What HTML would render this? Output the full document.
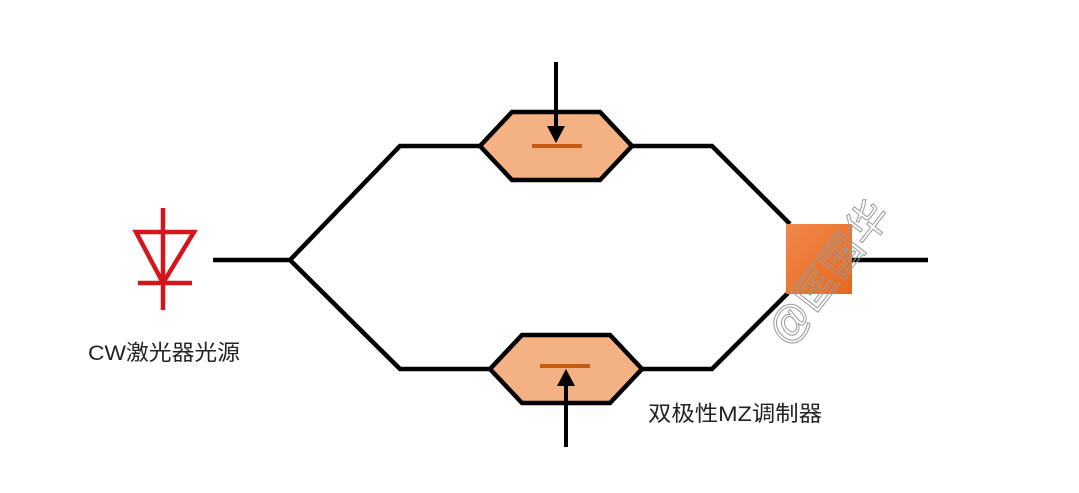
<!DOCTYPE html>
<html><head><meta charset="utf-8"><style>
html,body{margin:0;padding:0;background:#fff;}
svg{display:block;}
text{font-family:"Liberation Sans","Noto Sans CJK SC",sans-serif;}
</style></head><body>
<svg width="1079" height="493" viewBox="0 0 1079 493" xmlns="http://www.w3.org/2000/svg">
<defs>
<linearGradient id="sq" x1="0" y1="0" x2="1" y2="1">
<stop offset="0" stop-color="#f0884a"/><stop offset="1" stop-color="#e8681c"/>
</linearGradient>
</defs>
<g stroke="#d6141c" stroke-width="4.5" fill="none">
<line x1="163" y1="208" x2="163" y2="310"/>
<polygon points="136,232 194,232 163,283"/>
<line x1="138" y1="283" x2="192" y2="283"/>
</g>
<g stroke="#000" stroke-width="4.5" fill="none" stroke-linejoin="miter">
<polyline points="213,260 290,260 400,146 480,146"/>
<polyline points="290,260 400,369 490,369"/>
<polyline points="632,146 712,146 790,224"/>
<polyline points="642,369 712,369 788,293"/>
<line x1="850" y1="260" x2="928" y2="260"/>
<polygon points="480,146 512,112 600,112 632,146 600,180 512,180" fill="#f4b183"/>
<polygon points="490,369 522,335 610,335 642,369 610,403 522,403" fill="#f4b183"/>
</g>
<rect x="786" y="224" width="66" height="70" fill="url(#sq)"/>
<line x1="532" y1="146" x2="582" y2="146" stroke="#c55a11" stroke-width="4"/>
<line x1="540" y1="366" x2="590" y2="366" stroke="#c55a11" stroke-width="4"/>
<line x1="556" y1="62" x2="556" y2="128" stroke="#000" stroke-width="4"/>
<polygon points="547,126 565,126 556,143" fill="#000"/>
<line x1="566" y1="447" x2="566" y2="384" stroke="#000" stroke-width="4"/>
<polygon points="557,386 575,386 566,369" fill="#000"/>
<text x="88" y="360" font-size="21.5" fill="#222" textLength="152" lengthAdjust="spacingAndGlyphs">CW激光器光源</text>
<text x="648" y="421" font-size="21.5" fill="#222" textLength="174" lengthAdjust="spacingAndGlyphs">双极性MZ调制器</text>
<text x="0" y="0" font-size="42" fill="none" stroke="#999" stroke-width="1" transform="translate(788,348) rotate(-52)">@匡国华</text>
</svg>
</body></html>
